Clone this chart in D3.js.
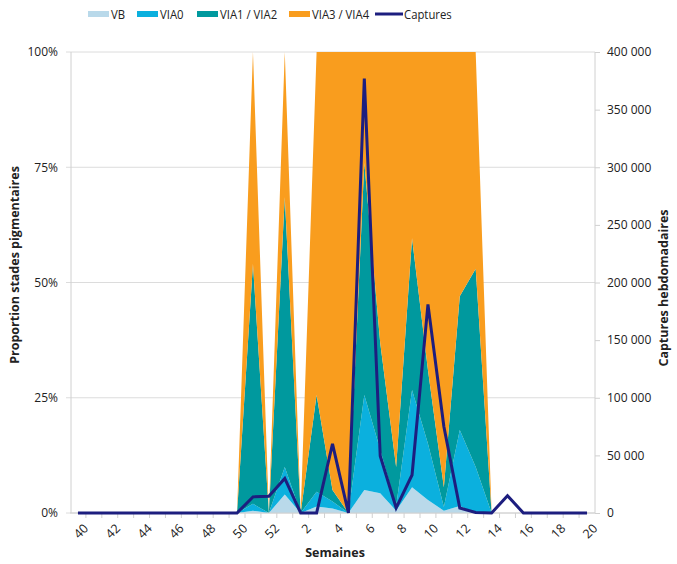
<!DOCTYPE html>
<html><head><meta charset="utf-8">
<script src="https://cdn.jsdelivr.net/npm/d3@7"></script>
<style>
body{margin:0;background:#fff;}
svg text{font-family:"Open Sans","Noto Sans",sans-serif;fill:#222;}
</style></head><body>
<svg id="c" width="677" height="564"></svg>
<script>
const weeks = ["40","41","42","43","44","45","46","47","48","49","50","51","52","1","2","3","4","5","6","7","8","9","10","11","12","13","14","15","16","17","18","19","20"];
const tickWeeks = ["40","42","44","46","48","50","52","2","4","6","8","10","12","14","16","18","20"];
// proportions (%) per week
const vb    = [0,0,0,0,0,0,0,0,0,0,0,0.5,0,4,0,1.4,1,0,5,4.3,0.5,5.6,2.8,0.5,1.5,0,0,0,0,0,0,0,0];
const via0  = [0,0,0,0,0,0,0,0,0,0,0,1.5,0,6,0,3.2,1.5,0,20.6,9.4,0.9,21.1,12.2,0.8,16.5,10,0,0,0,0,0,0,0];
const via12 = [0,0,0,0,0,0,0,0,0,0,0,52,0,58.5,0,21,2.5,0,50.3,23.2,8.6,32.9,16,4.3,29,43,0,0,0,0,0,0,0];
const via34 = [0,0,0,0,0,0,0,0,0,0,0,46,0,31.5,0,74.4,95,100,24.1,63.1,90,40.4,69,94.4,53,47,0,0,0,0,0,0,0];
const captures = [0,0,0,0,0,0,0,0,0,0,0,14000,14500,30000,0,0,60000,0,377000,49500,4500,33000,181000,75000,4300,500,0,15000,0,0,0,0,0];
const pctTicks = [0,25,50,75,100];
const capTicks = [0,50000,100000,150000,200000,250000,300000,350000,400000];
const seriesNames = ["VB","VIA0","VIA1 / VIA2","VIA3 / VIA4"];
const seriesColors = ["#b9d9ea","#0bb0de","#00999e","#f99d1e"];
const lineColor = "#1d1e7f";

const svg = d3.select("#c");
const L = 70, R = 595, T = 52, B = 513;
const x = d3.scaleBand().domain(weeks).range([L,R]).paddingInner(0).paddingOuter(0);
const cx = w => x(w) + x.bandwidth()/2;
const y = d3.scaleLinear().domain([0,100]).range([B,T]);
const y2 = d3.scaleLinear().domain([0,400000]).range([B,T]);

// gridlines
svg.append("g").selectAll("line").data(pctTicks).join("line")
  .attr("x1",L-4).attr("x2",R).attr("y1",d=>y(d)).attr("y2",d=>y(d))
  .attr("stroke","#dcdcdc").attr("stroke-width",1);

// stacked areas
const table = weeks.map((w,i)=>({w, a:vb[i], b:via0[i], c:via12[i], d:via34[i]}));
const stack = d3.stack().keys(["a","b","c","d"])(table);
const area = d3.area().x(d=>cx(d.data.w)).y0(d=>y(d[0])).y1(d=>y(d[1]));
svg.append("g").selectAll("path").data(stack).join("path")
  .attr("d",area).attr("fill",(d,i)=>seriesColors[i]);

// axis lines
svg.append("line").attr("x1",L+1).attr("x2",L+1).attr("y1",T).attr("y2",B).attr("stroke","#d0d0d0");
svg.append("line").attr("x1",R).attr("x2",R).attr("y1",T).attr("y2",B).attr("stroke","#d0d0d0");
svg.append("line").attr("x1",L).attr("x2",R).attr("y1",B).attr("y2",B).attr("stroke","#d0d0d0");

// left tick labels
const pctAxis = d3.axisLeft(y).tickValues(pctTicks).tickFormat(d=>d+"%").tickSize(0).tickPadding(12);
const gl = svg.append("g").attr("transform",`translate(${L},0)`).call(pctAxis);
gl.select(".domain").remove();
gl.selectAll("text").attr("font-size",12).attr("fill","#222");

// right axis
const loc = d3.formatLocale({decimal:",",thousands:"\u00a0",grouping:[3],currency:["","€"]});
const fmt = loc.format(",d");
const capAxis = d3.axisRight(y2).tickValues(capTicks).tickFormat(fmt).tickSize(5).tickPadding(7);
const gr = svg.append("g").attr("transform",`translate(${R},0)`).call(capAxis);
gr.select(".domain").remove();
gr.selectAll("line").attr("stroke","#d0d0d0");
gr.selectAll("text").attr("font-size",12).attr("fill","#222");

// bottom ticks at band boundaries
svg.append("g").selectAll("line").data(weeks.slice(1)).join("line")
  .attr("x1",d=>x(d)).attr("x2",d=>x(d)).attr("y1",B).attr("y2",B+5).attr("stroke","#d0d0d0");

// bottom labels
const gx = svg.append("g");
gx.selectAll("text").data(tickWeeks).join("text")
  .attr("transform",d=>`translate(${cx(d)+5},${B+10}) rotate(-45)`)
  .attr("text-anchor","end").attr("dy","0.7em").attr("font-size",12.5).text(d=>d);

// captures line
const line = d3.line().x((d,i)=>cx(weeks[i])).y(d=>y2(d));
svg.append("path").datum(captures).attr("d",line).attr("fill","none")
  .attr("stroke",lineColor).attr("stroke-width",3).attr("stroke-linejoin","miter");

// axis titles
svg.append("text").attr("transform","translate(19,265) rotate(-90)").attr("text-anchor","middle")
  .attr("font-size",12.5).attr("font-weight","bold").text("Proportion stades pigmentaires");
svg.append("text").attr("transform","translate(668,288) rotate(-90)").attr("text-anchor","middle")
  .attr("font-size",12.5).attr("font-weight","bold").text("Captures hebdomadaires");
svg.append("text").attr("x",335).attr("y",557).attr("text-anchor","middle")
  .attr("font-size",12.5).attr("font-weight","bold").text("Semaines");

// legend
const legX = [88,137,197,289,375];
const lg = svg.append("g");
seriesNames.forEach((n,i)=>{
  lg.append("rect").attr("x",legX[i]).attr("y",11).attr("width",21).attr("height",6).attr("fill",seriesColors[i]);
  lg.append("text").attr("transform",`translate(${legX[i]+23},19) scale(0.84,1)`).attr("font-size",13.5).text(n);
});
lg.append("line").attr("x1",legX[4]).attr("x2",legX[4]+28).attr("y1",14).attr("y2",14).attr("stroke",lineColor).attr("stroke-width",3);
lg.append("text").attr("transform",`translate(${legX[4]+29},19) scale(0.84,1)`).attr("font-size",13.5).text("Captures");
</script></body></html>
